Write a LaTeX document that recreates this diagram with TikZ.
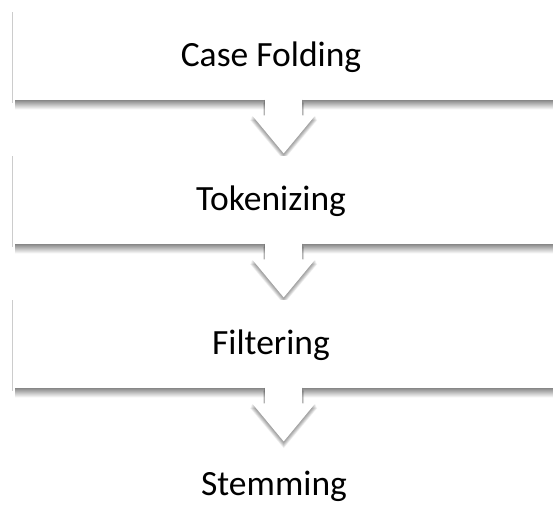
\documentclass[tikz,border=0pt]{standalone}
\usepackage{fontspec}
\setmainfont{Carlito}
\usetikzlibrary{calc}
\begin{document}
\begin{tikzpicture}[x=1pt,y=-1pt,
  stepbox/.style={fill=white, minimum width=543pt, minimum height=88pt, anchor=north west,
    inner sep=0pt, text depth=0pt},
  steplabel/.style={inner sep=0pt, font=\fontsize{35.5}{40}\selectfont, anchor=base},
  shadowlayer/.style={fill=black, opacity=0.055},
  arrowfill/.style={fill=white},
  edgeline/.style={draw=black!20, line width=1.6pt},
  bandshade/.style={top color=black!45, bottom color=white}
]
\fill[white] (0,0) rectangle (553,506);
\useasboundingbox (0,0) rectangle (553,506);
\newcommand{\stepbody}[1]{%
  \shade[bandshade] ($(#1.south west)+(3,0)$) rectangle ($(#1.south east)+(0,9)$);
  \draw[edgeline] ($(#1.north west)+(0.5,0)$) -- ($(#1.south west)+(0.5,3)$);}
\newcommand{\arrpath}[3]{%
  ($(#1.south)+(-18.5-#3,-2+#2)$) -- ($(#1.south)+(-18.5-#3,15+#2)$) -- ($(#1.south)+(-31.5-#3,15+#2)$)
    -- ($(#1.south)+(0,53+#2+#3)$) -- ($(#1.south)+(31.5+#3,15+#2)$) -- ($(#1.south)+(18.5+#3,15+#2)$)
    -- ($(#1.south)+(18.5+#3,-2+#2)$) -- cycle}
\newcommand{\downarr}[1]{%
  \foreach \d in {1,...,8}{\fill[shadowlayer] \arrpath{#1}{0.6*\d}{0.25*\d};}
  \fill[arrowfill] \arrpath{#1}{0}{0};}
\node[stepbox] (b1) at (12,12) {};
\stepbody{b1}
\downarr{b1}
\node[steplabel] (t1) at (271,66) {Case Folding};
\node[stepbox] (b2) at (12,156) {};
\stepbody{b2}
\downarr{b2}
\node[steplabel] (t2) at (271,210) {Tokenizing};
\node[stepbox] (b3) at (12,300) {};
\stepbody{b3}
\downarr{b3}
\node[steplabel] (t3) at (271,354) {Filtering};
\node[steplabel] (t4) at (274,495) {Stemming};
\end{tikzpicture}
\end{document}
